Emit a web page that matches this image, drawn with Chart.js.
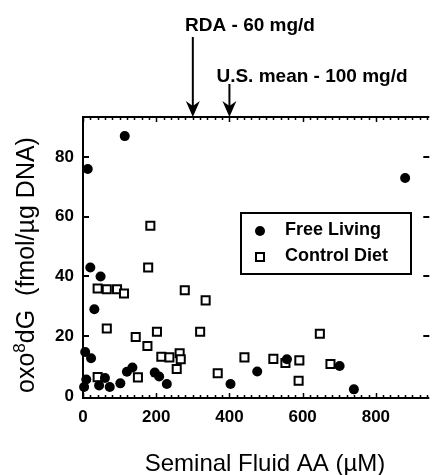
<!DOCTYPE html>
<html>
<head>
<meta charset="utf-8">
<script src="https://cdn.jsdelivr.net/npm/chart.js@4.4.1/dist/chart.umd.min.js"></script>
<style>
  html, body { margin: 0; padding: 0; background: #fff; overflow: hidden; }
  canvas { display: block; }
</style>
</head>
<body>
<canvas id="myChart" width="437" height="475"></canvas>
<script>
// seminal fluid AA (uM) vs oxo8dG (fmol/ug DNA)
const freeX = [114, 13, 880, 20, 48, 31, 6, 22, 9, 3, 44, 60, 73, 102, 120, 135, 196, 208, 229, 403, 476, 557, 701, 740];
const freeY = [87, 76, 73, 43, 40, 29, 14.7, 12.6, 5.5, 3, 3.5, 6, 3, 4.2, 8.1, 9.5, 7.8, 6.5, 4, 4, 8.2, 12.3, 10, 2.2];

const ctrlX = [184, 178, 40, 65, 93, 112, 278, 335, 65, 144, 202, 320, 176, 214, 236, 264, 267, 256, 150, 40, 368, 441, 520, 553, 591, 589, 647, 676];
const ctrlY = [57, 43, 36, 35.7, 35.7, 34.3, 35.4, 32, 22.6, 19.7, 21.5, 21.5, 16.7, 13.1, 12.9, 14.3, 12.3, 9, 6.2, 6.3, 7.6, 12.9, 12.4, 11, 11.9, 5.1, 20.8, 10.7];

const xTicks = [0, 200, 400, 600, 800];
const yTicks = [0, 20, 40, 60, 80];

// arrows: RDA 60 mg/d and U.S. mean 100 mg/d
const markers = [
  { label: 'RDA - 60 mg/d', value: 300 },
  { label: 'U.S. mean - 100 mg/d', value: 400 }
];

const FONT = "'Liberation Sans', Arial, Helvetica, sans-serif";

const toPoints = (xs, ys) => xs.map((x, i) => ({ x: x, y: ys[i] }));

const frame = {
  id: 'frame',
  afterDraw(chart) {
    const c = chart.ctx;
    const a = chart.chartArea;
    const xs = chart.scales.x;
    const ys = chart.scales.y;
    c.save();
    c.strokeStyle = '#000';
    c.fillStyle = '#000';

    // axis lines
    c.lineWidth = 2;
    c.beginPath();
    c.moveTo(a.left, a.top); c.lineTo(a.right, a.top);
    c.moveTo(a.left, a.top - 1); c.lineTo(a.left, a.bottom + 1);
    c.moveTo(a.left - 1, a.bottom); c.lineTo(a.right, a.bottom);
    c.stroke();

    // x ticks, top and bottom, pointing in
    c.lineWidth = 1.5;
    c.beginPath();
    for (let v = 0; v <= xs.max; v += 20) {
      const px = Math.round(xs.getPixelForValue(v)) + 0.5;
      const len = (v % 200 === 0) ? 5 : 3;
      c.moveTo(px, a.bottom); c.lineTo(px, a.bottom - len);
      c.moveTo(px, a.top); c.lineTo(px, a.top + len);
    }
    c.stroke();

    // y ticks, left and right
    c.lineWidth = 2;
    c.beginPath();
    yTicks.forEach(v => {
      if (v === 0) return;
      const py = Math.round(ys.getPixelForValue(v));
      c.moveTo(a.left, py); c.lineTo(a.left + 6, py);
      c.moveTo(a.right, py); c.lineTo(a.right - 6, py);
    });
    c.stroke();

    // legend
    c.lineWidth = 2;
    c.strokeRect(241, 213, 170, 61);
    c.beginPath();
    c.arc(260, 231, 5, 0, Math.PI * 2);
    c.fill();
    c.lineWidth = 2;
    c.strokeRect(256, 253, 8, 8);
    c.font = 'bold 18px ' + FONT;
    c.textAlign = 'left';
    c.textBaseline = 'alphabetic';
    c.fillText(chart.data.datasets[0].label, 285, 235);
    c.fillText(chart.data.datasets[1].label, 285, 261);

    // arrows
    const tops = [37, 84];
    c.font = 'bold 19px ' + FONT;
    c.textAlign = 'center';
    markers.forEach((m, i) => {
      const px = xs.getPixelForValue(m.value);
      c.lineWidth = 2;
      c.beginPath();
      c.moveTo(px, tops[i]); c.lineTo(px, a.top - 10);
      c.stroke();
      c.beginPath();
      c.moveTo(px, a.top);
      c.lineTo(px - 7, a.top - 16);
      c.lineTo(px, a.top - 11);
      c.lineTo(px + 7, a.top - 16);
      c.closePath();
      c.fill();
    });
    c.fillText(markers[0].label, 250, 31);
    c.fillText(markers[1].label, 312, 82);

    // axis titles
    c.font = '24px ' + FONT;
    c.textAlign = 'center';
    c.fillText('Seminal Fluid AA (\u00b5M)', 265, 471);

    c.translate(34, 265);
    c.rotate(-Math.PI / 2);
    const big = '25px ' + FONT, small = '17px ' + FONT;
    const p1 = 'oxo', p2 = '8', p3 = 'dG  (fmol/\u00b5g DNA)';
    c.font = big; const w1 = c.measureText(p1).width, w3 = c.measureText(p3).width;
    c.font = small; const w2 = c.measureText(p2).width;
    let x0 = -(w1 + w2 + w3) / 2;
    c.textAlign = 'left';
    c.font = big; c.fillText(p1, x0, 0);
    c.font = small; c.fillText(p2, x0 + w1, -9);
    c.font = big; c.fillText(p3, x0 + w1 + w2, 0);
    c.restore();
  }
};

new Chart(document.getElementById('myChart'), {
  type: 'scatter',
  data: {
    datasets: [{
      label: 'Free Living',
      data: toPoints(freeX, freeY),
      pointStyle: 'circle',
      pointRadius: 5,
      pointHoverRadius: 5,
      backgroundColor: '#000',
      borderColor: '#000',
      borderWidth: 0,
      clip: false
    }, {
      label: 'Control Diet',
      data: toPoints(ctrlX, ctrlY),
      pointStyle: 'rect',
      pointRadius: 5.7,
      pointHoverRadius: 5.7,
      backgroundColor: '#fff',
      borderColor: '#000',
      borderWidth: 2,
      clip: false
    }]
  },
  options: {
    responsive: false,
    animation: false,
    devicePixelRatio: 1,
    layout: { padding: { top: 117, right: 0, left: 0, bottom: 0 } },
    plugins: {
      legend: { display: false },
      tooltip: { enabled: false }
    },
    scales: {
      x: {
        type: 'linear',
        min: 0,
        max: 946,
        afterBuildTicks: s => { s.ticks = xTicks.map(v => ({ value: v })); },
        afterFit: s => { s.height = 77; },
        grid: { display: false, drawTicks: false },
        border: { display: false },
        ticks: {
          color: '#000',
          padding: 9,
          maxRotation: 0,
          font: { family: FONT, size: 17, weight: 'bold' }
        }
      },
      y: {
        type: 'linear',
        min: -0.7,
        max: 93.4,
        afterBuildTicks: s => { s.ticks = yTicks.map(v => ({ value: v })); },
        afterFit: s => { s.width = 83; },
        grid: { display: false, drawTicks: false },
        border: { display: false },
        ticks: {
          color: '#000',
          padding: 9,
          font: { family: FONT, size: 17, weight: 'bold' }
        }
      }
    }
  },
  plugins: [frame]
});
</script>
</body>
</html>
